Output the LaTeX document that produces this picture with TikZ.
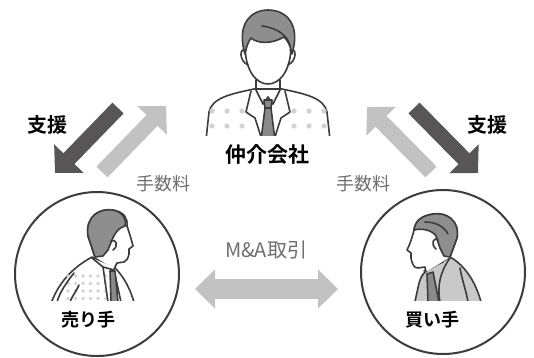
\documentclass[tikz,border=0pt]{standalone}
\usepackage{fontspec}
\newfontfamily\jp{Noto Sans CJK JP}[BoldFont={Noto Sans CJK JP Bold}]
\usetikzlibrary{arrows.meta}

\definecolor{inkgrey}{HTML}{3C3C3C}
\definecolor{hairgrey}{HTML}{8E8E8E}
\definecolor{tiegrey}{HTML}{8A8A8A}
\definecolor{suitgrey}{HTML}{C9C9C9}
\definecolor{dotgrey}{HTML}{D2D2D2}
\definecolor{darkarrow}{HTML}{575556}
\definecolor{lightarrow}{HTML}{C1C2C1}
\definecolor{labelgrey}{HTML}{6E6E6E}

\begin{document}
\begin{tikzpicture}[x=1pt,y=-1pt,
    outline/.style={draw=inkgrey, line width=1.6pt, line join=round, line cap=round},
    blockarrow/.style={line width=15.5pt, -{Triangle[length=20pt,width=40pt]}},
    namelabel/.style={font=\jp\bfseries\fontsize{18}{18}\selectfont, text=black, inner sep=0pt},
    sidelabel/.style={font=\jp\fontsize{18}{18}\selectfont, text=labelgrey, inner sep=0pt}]
    \useasboundingbox (0,0) rectangle (534,357);

    % Broker
    \begin{scope}
        \clip (190,0) rectangle (345,135);
        % jacket
        \filldraw[outline, fill=white] (206,140) -- (209,112) .. controls (212,98) and (230,94) .. (254,89)
            -- (282,89) .. controls (306,94) and (324,98) .. (327,112) -- (330,140);
        \foreach \x in {212,227,242} {
            \foreach \y in {111,126} {
                \fill[dotgrey] (\x,\y) circle[radius=2.6pt];
            }
        }
        \foreach \x in {294,309,324} {
            \foreach \y in {111,126} {
                \fill[dotgrey] (\x,\y) circle[radius=2.6pt];
            }
        }
        % lapels
        \draw[outline] (251,91) -- (246,112) -- (255,118) -- (262,140);
        \draw[outline] (285,91) -- (290,112) -- (281,118) -- (274,140);
        % shirt collar
        \draw[outline] (256,80) -- (256,90) -- (263,104) -- (268,97) -- (273,104) -- (280,90) -- (280,80);
        % tie
        \filldraw[outline, fill=tiegrey] (264,100) -- (272,100) -- (271,108) -- (265,108) -- cycle;
        \filldraw[outline, fill=tiegrey] (265,108) -- (271,108) -- (275,140) -- (261,140) -- cycle;
        % head
        \filldraw[outline, fill=white] (245,35) -- (245,45) .. controls (245,72) and (257,84) .. (268,84)
            .. controls (279,84) and (291,72) .. (291,45) -- (291,35);
        \draw[outline] (246,50) .. controls (239,47) and (239,61) .. (248,65);
        \draw[outline] (290,50) .. controls (297,47) and (297,61) .. (288,65);
        % hair
        \filldraw[outline, fill=hairgrey] (245,54) .. controls (236,24) and (251,10) .. (268,10)
            .. controls (286,10) and (301,24) .. (292,54) .. controls (290,44) and (287,40) .. (284,37)
            .. controls (272,44) and (258,44) .. (251,38) .. controls (248,42) and (246,48) .. (245,54) -- cycle;
        \draw[outline] (262,26) .. controls (278,28) and (288,36) .. (290,46);
    \end{scope}
    \node[namelabel, font=\jp\bfseries\fontsize{21}{21}\selectfont] (broker) at (267,155) {仲介会社};

    % Seller
    \draw[draw=inkgrey, line width=2pt] (97,274) circle[radius=82pt];
    \begin{scope}
        \clip (40,200) rectangle (150,300);
        \filldraw[outline, fill=white] (50,306) .. controls (58,283) and (72,268) .. (92,257)
            -- (113,266) .. controls (124,276) and (131,290) .. (135,306);
        \foreach \x in {68,75.5,...,108} {
            \foreach \y in {276,283.5,291,298.5} {
                \fill[dotgrey] (\x,\y) circle[radius=1.8pt];
            }
        }
        \draw[outline] (74,273) .. controls (66,283) and (60,292) .. (57,302);
        \draw[outline] (79,285) .. controls (76,292) and (72,296) .. (70,302);
        \draw[outline] (92,258) -- (103,267) -- (108,302);
        \draw[outline] (103,267) -- (114,270) -- (121,302);
        \filldraw[outline, fill=tiegrey] (110,271) -- (115,271) -- (118,302) -- (111,302) -- cycle;
        % head
        \filldraw[outline, fill=white] (95,257) -- (88,236) .. controls (85,216) and (100,208) .. (113,210)
            .. controls (124,212) and (128,218) .. (127,226) .. controls (129,232) and (131,238) .. (133,246)
            -- (129,249) -- (129,254) .. controls (128,258) and (127,261) .. (124,262) -- (117,263) -- (114,269);
        \filldraw[outline, fill=hairgrey] (95,257) -- (88,236) .. controls (85,216) and (100,208) .. (113,210)
            .. controls (122,212) and (127,218) .. (125,226) .. controls (118,228) and (115,233) .. (112,240)
            -- (108,250) -- (103,256) -- cycle;
        \draw[outline] (111,241) .. controls (116,238) and (119,246) .. (113,250);
    \end{scope}
    \node[namelabel] (seller) at (88,320) {売り手};

    % Buyer
    \draw[draw=inkgrey, line width=2pt] (443,272) circle[radius=82pt];
    \begin{scope}
        \clip (380,200) rectangle (500,300);
        \filldraw[outline, fill=suitgrey] (414,306) -- (419,283) .. controls (421,276) and (424,272) .. (428,270)
            -- (450,257) .. controls (466,266) and (477,284) .. (482,306);
        \draw[outline] (450,258) .. controls (440,272) and (437,286) .. (440,302);
        \draw[outline] (460,268) .. controls (462,280) and (466,290) .. (468,302);
        \filldraw[outline, fill=tiegrey] (427,274) -- (433,272) -- (439,302) -- (428,302) -- cycle;
        \draw[outline] (424,271) -- (433,266) -- (443,262);
        % head
        \filldraw[outline, fill=white] (450,257) -- (457,238) .. controls (460,220) and (446,212) .. (433,214)
            .. controls (420,216) and (415,222) .. (414,230) .. controls (412,238) and (410,244) .. (407,250)
            -- (411,253) -- (411,258) .. controls (412,264) and (414,268) .. (418,268) -- (425,267) -- (426,272);
        \filldraw[outline, fill=hairgrey] (450,257) -- (457,238) .. controls (460,220) and (446,212) .. (433,214)
            .. controls (420,216) and (415,222) .. (414,230) .. controls (422,228) and (432,230) .. (436,236)
            -- (440,248) -- (444,256) -- cycle;
        \draw[outline] (438,240) .. controls (434,236) and (430,244) .. (436,249);
        \draw[outline] (425,222) .. controls (435,222) and (444,226) .. (448,234);
    \end{scope}
    \node[namelabel] (buyer) at (432,320) {買い手};

    % Support and fee arrows
    \coordinate (sellhelptail) at (118,108);
    \coordinate (sellhelptip) at (55,173);
    \coordinate (sellfeetail) at (102,172);
    \coordinate (sellfeetip) at (166,106);
    \coordinate (buyhelptail) at (414,108);
    \coordinate (buyhelptip) at (478,173);
    \coordinate (buyfeetail) at (431,172);
    \coordinate (buyfeetip) at (367,107);
    \draw[blockarrow, darkarrow] (sellhelptail) -- (sellhelptip);
    \draw[blockarrow, lightarrow] (sellfeetail) -- (sellfeetip);
    \draw[blockarrow, darkarrow] (buyhelptail) -- (buyhelptip);
    \draw[blockarrow, lightarrow] (buyfeetail) -- (buyfeetip);
    \node[namelabel, font=\jp\bfseries\fontsize{20}{20}\selectfont] (sellhelp) at (47,125) {支援};
    \node[namelabel, font=\jp\bfseries\fontsize{20}{20}\selectfont] (buyhelp) at (487,125) {支援};
    \node[sidelabel] (sellfee) at (163,184) {手数料};
    \node[sidelabel] (buyfee) at (363,184) {手数料};

    % Deal arrow
    \coordinate (dealleft) at (195,289);
    \coordinate (dealright) at (338,289);
    \draw[line width=20pt, lightarrow, {Triangle[length=20pt,width=38pt]}-{Triangle[length=20pt,width=38pt]}]
        (dealleft) -- (dealright);
    \node[sidelabel, font=\jp\fontsize{20}{20}\selectfont] (deal) at (266,250) {M\&A取引};
\end{tikzpicture}
\end{document}
